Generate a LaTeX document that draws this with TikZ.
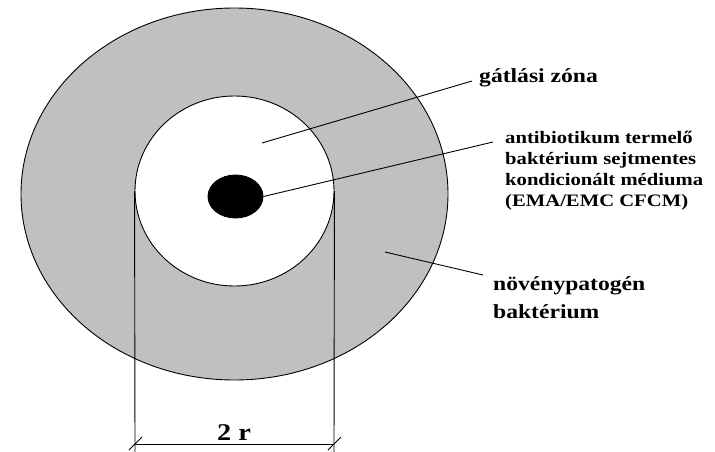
\documentclass[tikz,border=0pt]{standalone}
\usepackage{fontspec}
\setmainfont{Liberation Serif}[FakeStretch=1.18]
\usetikzlibrary{shapes.geometric}
\definecolor{zonegray}{RGB}{192,192,192}
\begin{document}
\begin{tikzpicture}[x=1pt,y=-1pt,
  ln/.style={line width=0.9pt, draw=black},
  ring/.style={ellipse, draw=black, line width=0.9pt, inner sep=0pt},
  lbl/.style={font=\bfseries\fontsize{20}{28}\selectfont, inner sep=0pt, anchor=base west, align=left},
  lblsmall/.style={font=\bfseries\fontsize{17.5}{21}\selectfont, inner sep=0pt, anchor=base west, align=left}]
\useasboundingbox (0,0) rectangle (715,452);
\node[ring, fill=zonegray, minimum width=427pt, minimum height=372pt] (outer) at (234.5,194) {};
\node[ring, fill=white, minimum width=199pt, minimum height=190pt] (inner) at (234.5,191) {};
\node[ring, fill=black, minimum width=55pt, minimum height=43pt] (dot) at (235.5,196.5) {};
% dimension
\coordinate (lb) at (135,452);
\coordinate (rb) at (334,452);
\coordinate (dl) at (135,444);
\coordinate (dr) at (334,444);
\draw[ln] (inner.west) -- (lb);
\draw[ln] (inner.east) -- (rb);
\draw[ln] (dl) -- (dr);
\draw[ln] (dl) ++(-6,6) -- ++(13,-13);
\draw[ln] (dr) ++(-6,6) -- ++(13,-13);
\node[font=\bfseries\fontsize{24}{24}\selectfont, inner sep=0pt, anchor=base] (tr) at (234,440) {2 r};
% labels (base anchor = baseline of last line)
\node[lbl] (tgz) at (479,83) {gátlási zóna};
\node[lblsmall] (tab) at (505,206) {antibiotikum termelő\\baktérium sejtmentes\\kondicionált médiuma\\(EMA/EMC CFCM)};
\node[lbl] (tnp) at (493,318) {növénypatogén\\baktérium};
\coordinate (gz) at (262,143);
\coordinate (np) at (385,252);
\draw[ln] (gz) -- ([shift={(-7,-2)}]tgz.base west);
\draw[ln] (dot.east) -- ([shift={(-12,-64)}]tab.base west);
\draw[ln] (np) -- ([shift={(-10,-43)}]tnp.base west);
\end{tikzpicture}
\end{document}
